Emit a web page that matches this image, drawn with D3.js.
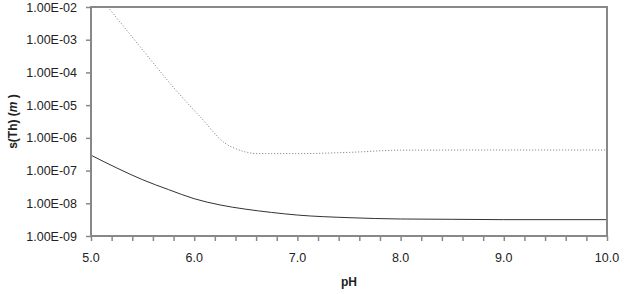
<!DOCTYPE html>
<html>
<head>
<meta charset="utf-8">
<script src="https://cdn.jsdelivr.net/npm/d3@7"></script>
<style>
  body { margin: 0; background: #fff; }
  text { font-family: "Liberation Sans", Arial, sans-serif; }
</style>
</head>
<body>
<div id="chart"></div>
<script>
// pH grid and solubility values
var solidPH   = [5.0, 5.25, 5.5, 5.75, 6.0, 6.25, 6.5, 6.75, 7.0, 7.5, 8.0, 8.5, 9.0, 10.0];
var solidVal  = [2.95e-7, 1.20e-7, 5.25e-8, 2.63e-8, 1.38e-8, 8.9e-9, 6.6e-9, 5.25e-9, 4.37e-9, 3.63e-9, 3.31e-9, 3.24e-9, 3.16e-9, 3.16e-9];

var dotPH     = [5.0, 5.2, 5.4, 5.6, 5.8, 6.0, 6.1, 6.2, 6.3, 6.4, 6.5, 6.6, 7.0, 7.5, 8.0, 9.0, 10.0];
var dotVal    = [4.4e-2, 7.24e-3, 1.20e-3, 2.0e-4, 3.47e-5, 6.9e-6, 3.16e-6, 1.35e-6, 6.8e-7, 4.7e-7, 3.7e-7, 3.3e-7, 3.3e-7, 3.6e-7, 4.2e-7, 4.25e-7, 4.25e-7];

var xTicks    = [5.0, 6.0, 7.0, 8.0, 9.0, 10.0];
var yTicks    = [1e-9, 1e-8, 1e-7, 1e-6, 1e-5, 1e-4, 1e-3, 1e-2];

var width = 628, height = 294;
var pL = 91, pR = 607, pT = 7, pB = 236;

var svg = d3.select("#chart").append("svg")
    .attr("width", width)
    .attr("height", height);

var x = d3.scaleLinear().domain([5, 10]).range([pL, pR]);
var y = d3.scaleLog().domain([1e-9, 1e-2]).range([pB, pT]);

svg.append("clipPath").attr("id", "plot")
  .append("rect")
    .attr("x", pL).attr("y", pT)
    .attr("width", pR - pL).attr("height", pB - pT);

// curves
var line = d3.line()
    .curve(d3.curveMonotoneX)
    .x(function(d){ return x(d[0]) })
    .y(function(d){ return y(d[1]) });

svg.append("path")
    .datum(dotPH.map(function(p, i){ return [p, dotVal[i]] }))
    .attr("d", line)
    .attr("clip-path", "url(#plot)")
    .attr("fill", "none")
    .attr("stroke", "#777")
    .attr("stroke-width", 1)
    .attr("stroke-dasharray", "1,2");

svg.append("path")
    .datum(solidPH.map(function(p, i){ return [p, solidVal[i]] }))
    .attr("d", line)
    .attr("clip-path", "url(#plot)")
    .attr("fill", "none")
    .attr("stroke", "#333")
    .attr("stroke-width", 1);

// frame
svg.append("rect")
    .attr("x", pL).attr("y", pT)
    .attr("width", pR - pL).attr("height", pB - pT)
    .attr("fill", "none")
    .attr("stroke", "#888")
    .attr("stroke-width", 2);

// x axis
var xAxis = svg.append("g")
    .attr("transform", "translate(0," + pB + ")")
    .call(d3.axisBottom(x)
        .ticks(25)
        .tickSize(5)
        .tickFormat(""));
xAxis.select(".domain").remove();
xAxis.selectAll("line").attr("stroke", "#888").attr("stroke-width", 1.5);

svg.selectAll(".xlab").data(xTicks).enter().append("text")
    .attr("class", "xlab")
    .attr("x", function(d){ return x(d) })
    .attr("y", pB + 26)
    .attr("text-anchor", "middle")
    .attr("font-size", 12.5)
    .attr("fill", "#222")
    .text(function(d){ return d.toFixed(1) });

// y axis
var yAxis = svg.append("g")
    .attr("transform", "translate(" + pL + ",0)")
    .call(d3.axisLeft(y)
        .tickValues(yTicks)
        .tickSize(5)
        .tickPadding(9)
        .tickFormat(function(d){
            return "1.00E-" + d3.format("02d")(Math.round(-Math.log10(d)));
        }));
yAxis.select(".domain").remove();
yAxis.selectAll("line").attr("stroke", "#888").attr("stroke-width", 1.5);
yAxis.selectAll("text")
    .attr("font-size", 12.5)
    .attr("fill", "#222")
    .attr("font-family", "Liberation Sans, Arial, sans-serif");

// titles
svg.append("text")
    .attr("x", (pL + pR) / 2)
    .attr("y", 286)
    .attr("text-anchor", "middle")
    .attr("font-size", 12)
    .attr("font-weight", "bold")
    .attr("fill", "#222")
    .text("pH");

var yt = svg.append("text")
    .attr("transform", "translate(17," + ((pT + pB) / 2) + ") rotate(-90)")
    .attr("text-anchor", "middle")
    .attr("font-size", 12)
    .attr("font-weight", "bold")
    .attr("fill", "#222");
yt.append("tspan").text("s(Th) (");
yt.append("tspan").attr("font-style", "italic").text("m");
yt.append("tspan").text(" )");
</script>
</body>
</html>
